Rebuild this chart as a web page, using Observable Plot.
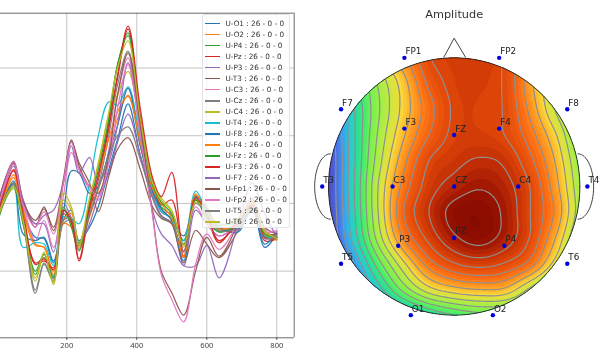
<!DOCTYPE html>
<html><head><meta charset="utf-8">
<script src="https://cdn.jsdelivr.net/npm/d3@7"></script>
<script src="https://cdn.jsdelivr.net/npm/@observablehq/plot@0.6"></script>
<style>
html,body{margin:0;padding:0;background:#fff;overflow:hidden}
#page{position:relative;width:600px;height:354px;font-family:"DejaVu Sans",sans-serif}
#left,#right{position:absolute;top:0}
#left{left:0}#right{left:300px}
#left svg,#right svg{display:block;filter:blur(.45px)}
#legend{position:absolute;left:202px;top:14px;width:88px;height:214px;background:rgba(255,255,255,.8);border:1px solid #e4e4e4;border-radius:2px;box-sizing:border-box;filter:blur(.35px)}
.row{position:absolute;left:1.5px;font-size:7.27px;color:#333;white-space:nowrap;line-height:10px;height:10px}
.sw{position:absolute;left:0;top:4.3px;width:15.5px;height:1.5px}
.lb{position:absolute;left:21px;top:0}
</style></head>
<body><div id="page"><div id="left"></div><div id="right"></div><div id="legend"></div></div>
<script>
// ---- left panel: one value per knot, per channel
const knots=[-5,20,48,75,110,135,162,190,213,235,265,290,320,345,375,410,445,470,500,534,568,600,635,690,730,765,800];
const names=["U-O1","U-O2","U-P4","U-Pz","U-P3","U-T3","U-C3","U-Cz","U-C4","U-T4","U-F8","U-F4","U-Fz","U-F3","U-F7","U-Fp1","U-Fp2","U-T5","U-T6"];
const colors=["#1f77b4","#ff7f0e","#2ca02c","#d62728","#9467bd","#8c564b","#e377c2","#7f7f7f","#bcbd22","#17becf","#1f77b4","#ff7f0e","#2ca02c","#d62728","#9467bd","#8c564b","#e377c2","#7f7f7f","#bcbd22"];
const O1=[-35,5,33,-15,-50,-52,-88,-25,-10,-55,-35,-5,50,95,147,70,8,-18,-28,-48,5,-15,-38,-38,-8,-65,-45];
const O2=[-30,10,42,-8,-60,-65,-100,-30,-35,-60,-20,20,75,125,160,85,18,-8,-25,-80,12,-5,-35,-35,-10,-45,-50];
const P4=[-38,8,30,-20,-105,-80,-108,-10,-28,-58,-8,40,120,205,252,125,25,-5,-18,-55,8,-25,-42,-30,-5,-48,-48];
const Pz=[-32,15,50,-12,-90,-85,-95,-15,-30,-85,-10,35,110,185,258,130,32,-2,5,-78,5,-20,-58,-22,-5,-55,-52];
const P3=[-28,20,55,-5,-30,-30,-72,0,-22,-62,-30,10,45,90,132,72,15,-18,-30,-92,-10,-30,-48,-30,0,-40,-50];
const T3=[-22,30,62,5,-35,-5,-40,30,92,60,30,-12,40,80,97,50,-5,-22,-30,-88,-40,-60,-80,-40,-10,-45,-45];
const C3=[-30,22,58,0,-55,-25,-65,10,75,50,20,5,80,160,215,105,12,-12,-15,-60,-5,-30,-48,-30,0,-42,-40];
const Cz=[-40,5,30,-25,-133,-90,-115,-30,-25,-68,-18,25,100,175,225,120,22,-12,-22,-55,10,-10,-38,-32,-5,-50,-45];
const C4=[-35,2,22,-30,-115,-75,-118,5,-10,-60,5,55,130,160,195,120,30,8,-10,-65,5,-15,-30,-25,5,-42,-55];
const T4=[-25,10,25,-65,-58,-60,-92,-20,-22,-30,30,100,150,145,172,95,20,-12,-22,-55,18,-10,-30,-28,-8,-48,-50];
const F8=[-30,10,28,-45,-55,-50,-85,-15,48,45,15,25,75,115,170,85,18,-8,-25,-85,10,-8,-35,-42,-5,-60,-42];
const F4=[-35,8,38,-15,-62,-65,-105,-25,-15,-65,-5,40,95,135,158,90,22,0,-22,-78,14,-18,-38,-28,2,-45,-48];
const Fz=[-42,0,25,-30,-100,-75,-110,-5,-35,-70,0,50,125,205,248,120,28,2,-15,-60,5,-18,-42,-30,-3,-45,-50];
const F3=[-30,15,48,-18,-88,-82,-98,-10,-25,-82,-5,42,115,190,262,140,38,10,46,-72,8,-15,-55,-28,-2,-50,-52];
const F7=[-20,30,60,6,-30,-18,-10,30,85,45,68,30,60,115,208,105,-10,-45,-62,-92,-92,-62,-110,-30,30,-15,-50];
const Fp1=[-25,28,60,2,-25,-8,-35,35,94,55,25,15,70,160,222,115,-15,-100,-132,-165,-100,-50,-78,-30,5,-35,-45];
const Fp2=[-28,25,62,-2,-35,-12,-45,30,90,50,25,10,60,140,205,100,-18,-105,-142,-175,-90,-45,-68,-28,8,-38,-42];
const T5=[-38,3,28,-22,-128,-88,-112,-25,-22,-62,-15,22,70,100,113,65,10,-20,-28,-70,0,-15,-40,-35,-6,-52,-48];
const T6=[-36,3,25,-25,-110,-72,-120,15,-5,-62,8,60,135,200,240,125,30,5,-12,-62,2,-12,-32,-22,4,-40,-52];
const seriesValues=[O1,O2,P4,Pz,P3,T3,C3,Cz,C4,T4,F8,F4,Fz,F3,F7,Fp1,Fp2,T5,T6];
const xTicks=[200,400,600,800];
const yTicks=[-100,0,100,200];
const xRange=[10.6,849.7];
const yRange=[-198.5,281];

// ---- right panel: electrodes in head coordinates
const labels=["FP1","FP2","F7","F8","F3","F4","FZ","T3","C3","CZ","C4","T4","T5","P3","PZ","P4","T6","O1","O2"];
const elecX=[-.396,.358,-.90,.90,-.396,.358,0,-1.05,-.49,0,.51,1.06,-.90,-.445,0,.40,.90,-.345,.308];
const elecY=[1,1,.60,.60,.45,.45,.40,0,0,0,0,0,-.60,-.46,-.40,-.46,-.60,-1,-1];
const noseX=[-.082,0,.09];
const noseY=[1.005,1.153,1.005];
// amplitude, row by row from the top of the head (y=1.2) to the bottom (y=-1.2), x from -1.2 to 1.2 in steps of .2
const ampRows=[
[4,6.5,9.5,12,14,16,16.5,16.6,15.85,13.8,11.5,9.5,8],
[3,5.6,8.6,11.5,13.7,15.9,16.45,16.6,15.85,13.7,11,9,7],
[2.5,4.4,7.5,10.2,12.6,15.2,16.3,16.4,15.85,13.4,10.7,8.2,6.5],
[2,3.6,6.9,9.9,12.4,14.6,16.15,16.3,15.9,13.8,11,8.4,6],
[1.8,3.3,6.8,10.2,12.9,15,16.25,16.4,16,14.5,12.2,9.2,7],
[1.8,3.1,6.8,10.6,13.7,16,16.7,17.1,16.8,15.3,13,9.8,7],
[1.8,3.1,6.9,11.1,14.4,16.5,17.4,17.9,17.4,16,13.5,10.2,7],
[1.8,3,6.8,11.1,15,17,18.35,18.6,17.8,16.05,13.9,10.4,7.5],
[1.8,2.8,6.4,10.5,14.1,16.3,17.8,18.4,17.6,15.95,13.1,9.6,7],
[.5,1.8,5,8.6,11.8,14.5,15.9,16.4,15.9,14.6,11.6,8.5,6],
[0,.8,3.6,6.5,9.4,11.6,12.6,13,12.8,10.8,8.5,6,4.5],
[-1,.5,2.5,4,5.5,7,8,8.6,8.5,8,6.5,5,3.5],
[-2,-1,.5,2,3.5,4.5,5,5.5,5.5,5.5,4.5,3.5,2.5]
];
const levelDomain=[3,4,5,6,7,8,9,10,11,12,13,14,15,16,17,18,19];
const levelColors=["#4f4fc4","#4a70e8","#38a0f0","#28c8d8","#28dca0","#40ec70","#78f050","#a0f048","#cce840","#f8d83a","#ffa828","#ff7c18","#f05a10","#dc4408","#c02c06","#941000","#800800"];
const bandThresholds=d3.range(1,19.01,1/3);
const lineThresholds=d3.range(4,18.5,1);

function surface(x,y){
  const fx=(x+1.2)/.2, fy=(1.2-y)/.2;
  const i=Math.floor(fx), j=Math.floor(fy), tx=fx-i, ty=fy-j;
  const at=(r,c)=>ampRows[Math.max(0,Math.min(12,r))][Math.max(0,Math.min(12,c))];
  const cr=(a,b,c,d,t)=>.5*(2*b+(c-a)*t+(2*a-5*b+4*c-d)*t*t+(3*b-a-3*c+d)*t*t*t);
  const row=r=>cr(at(r,i-1),at(r,i),at(r,i+1),at(r,i+2),tx);
  return cr(row(j-1),row(j),row(j+1),row(j+2),ty);
}

// ---- left chart
const table=[];
seriesValues.forEach((vals,s)=>vals.forEach((v,k)=>table.push({name:names[s],x:knots[k],v})));
const leftPlot=Plot.plot({
  width:300,height:354,marginLeft:0,marginRight:6.3,marginTop:12.7,marginBottom:16.7,
  style:{background:"#fff",overflow:"visible"},
  x:{domain:xRange,label:null},
  y:{domain:yRange,axis:null,label:null},
  color:{domain:names,range:colors},
  marks:[
    Plot.ruleX(xTicks,{stroke:"#c4c4c4",strokeWidth:1}),
    Plot.ruleY(yTicks,{stroke:"#c4c4c4",strokeWidth:1}),
    Plot.line(table,{x:"x",y:"v",z:"name",stroke:"name",curve:"catmull-rom",strokeWidth:1.25,clip:true,strokeOpacity:.95}),
    Plot.ruleY([yRange[0],yRange[1]],{stroke:"#6a6a6a",strokeWidth:1}),
    Plot.ruleX([xRange[1]],{stroke:"#6a6a6a",strokeWidth:1}),
    Plot.axisX({ticks:xTicks,tickSize:2.5,tickPadding:2,fontSize:7.6,label:null,color:"#444",stroke:"#444"})
  ]
});
document.getElementById("left").appendChild(leftPlot);

// ---- legend
const legendEl=document.getElementById("legend");
names.forEach((n,i)=>{
  const r=document.createElement("div");r.className="row";
  r.style.top=(3.5+i*11.03)+"px";r.style.width="80px";
  const sw=document.createElement("span");sw.className="sw";sw.style.background=colors[i];
  const lb=document.createElement("span");lb.className="lb";lb.textContent=n+" : 26 - 0 - 0";
  r.append(sw,lb);legendEl.appendChild(r);
});

// ---- right chart
const elecs=labels.map((l,i)=>({l,x:elecX[i],y:elecY[i]}));
const thetas=d3.range(0,360.5,3).map(d=>d*Math.PI/180);
const headOutline=thetas.map(t=>({x:Math.cos(t),y:Math.sin(t)}));
const ear=s=>d3.range(-90,90.5,6).map(d=>d*Math.PI/180).map(t=>({x:s*(.985+.125*Math.cos(t)),y:.254*Math.sin(t)}));
const xDom=[-153.67/125.67,146.33/125.67], yDom=[-168/128.67,186/128.67];
const rightPlot=Plot.plot({
  width:300,height:354,margin:0,
  style:{background:"transparent",overflow:"visible"},
  x:{domain:xDom,axis:null,label:null},
  y:{domain:yDom,axis:null,label:null},
  color:{type:"linear",domain:levelDomain,range:levelColors,clamp:true},
  marks:[
    Plot.line(ear(-1),{x:"x",y:"y",stroke:"#444",strokeWidth:1}),
    Plot.line(ear(1),{x:"x",y:"y",stroke:"#444",strokeWidth:1}),
    Plot.line(noseX.map((x,i)=>({x,y:noseY[i]})),{x:"x",y:"y",stroke:"#444",strokeWidth:1}),
    Plot.contour({value:surface,fill:"value",x1:-1.2,x2:1.2,y1:-1.2,y2:1.2,pixelSize:1,thresholds:bandThresholds}),
    Plot.contour({value:surface,stroke:"#8f8f8f",fill:"none",strokeWidth:1.2,x1:-1.2,x2:1.2,y1:-1.2,y2:1.2,pixelSize:1,thresholds:lineThresholds}),
    Plot.line(headOutline,{x:"x",y:"y",stroke:"#222",strokeWidth:.9}),
    Plot.dot(elecs,{x:"x",y:"y",r:2.2,fill:"#0000dc",stroke:"none"}),
    Plot.text(elecs,{x:"x",y:"y",text:"l",textAnchor:"start",dx:1,dy:-6.3,fontSize:8.8,fill:"#222",fontFamily:"DejaVu Sans"}),
    Plot.text(["Amplitude"],{x:0,y:1.334,text:d=>d,fontSize:11.3,fill:"#333",fontFamily:"DejaVu Sans"})
  ]
});
document.getElementById("right").appendChild(rightPlot);
(function(){
  const sx=rightPlot.scale("x"),sy=rightPlot.scale("y");
  const ns="http://www.w3.org/2000/svg";
  const defs=document.createElementNS(ns,"defs");
  const cp=document.createElementNS(ns,"clipPath");cp.setAttribute("id","headClip");
  const el=document.createElementNS(ns,"ellipse");
  el.setAttribute("cx",sx.apply(0));el.setAttribute("cy",sy.apply(0));
  el.setAttribute("rx",sx.apply(1)-sx.apply(0));el.setAttribute("ry",sy.apply(0)-sy.apply(1));
  cp.appendChild(el);defs.appendChild(cp);rightPlot.insertBefore(defs,rightPlot.firstChild);
  rightPlot.querySelectorAll('g[aria-label="contour"]').forEach(g=>g.setAttribute("clip-path","url(#headClip)"));
})();
</script></body></html>
